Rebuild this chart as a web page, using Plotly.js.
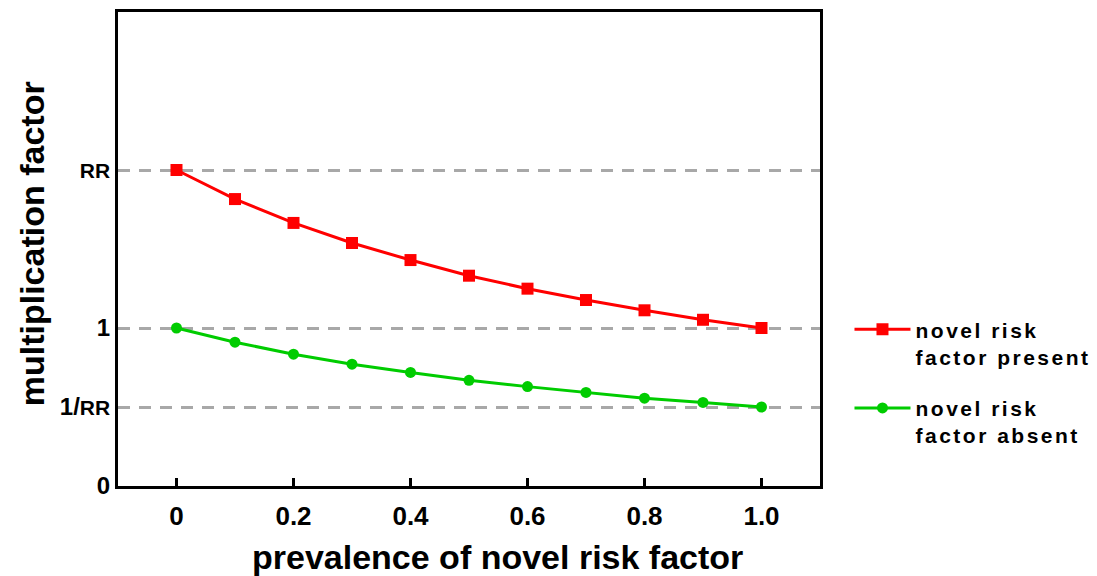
<!DOCTYPE html>
<html>
<head>
<meta charset="utf-8">
<script src="https://cdn.plot.ly/plotly-3.0.1.min.js"></script>
<style>
html,body{margin:0;padding:0;background:#fff;}
#chart{width:1097px;height:576px;}
.legendtext{letter-spacing:2.5px;}
</style>
</head>
<body>
<div id="chart"></div>
<script>
// data
const prevalence = [0, 0.1, 0.2, 0.3, 0.4, 0.5, 0.6, 0.7, 0.8, 0.9, 1.0];
const presentValues = [2.0, 1.816, 1.665, 1.538, 1.430, 1.331, 1.249, 1.177, 1.112, 1.052, 1.0];
const absentValues = [1.0, 0.910, 0.834, 0.771, 0.719, 0.669, 0.629, 0.592, 0.556, 0.529, 0.5];
const yTickVals = [0, 0.5, 1, 2];
const yTickText = ['0', '1/<span style="font-size:21px">RR</span>', '1', '<span style="font-size:21px">RR</span>'];
const xTickVals = [0, 0.2, 0.4, 0.6, 0.8, 1.0];
const xTickText = ['0', '0.2', '0.4', '0.6', '0.8', '1.0'];

const FONT = 'Liberation Sans, Arial, Helvetica, sans-serif';

const traces = [
  {
    x: prevalence, y: presentValues, type: 'scatter', mode: 'lines+markers',
    name: 'novel risk<br>factor present', legendgroup: 'a',
    line: {color: '#ff0000', width: 3},
    marker: {symbol: 'square', size: 12, color: '#ff0000'}
  },
  {
    x: prevalence, y: absentValues, type: 'scatter', mode: 'lines+markers',
    name: 'novel risk<br>factor absent', legendgroup: 'b',
    line: {color: '#00cc00', width: 3},
    marker: {symbol: 'circle', size: 11, color: '#00cc00'}
  }
];

const layout = {
  width: 1097, height: 576,
  margin: {l: 118, r: 277, t: 12, b: 90, autoexpand: false},
  paper_bgcolor: '#fff', plot_bgcolor: '#fff',
  font: {family: FONT, color: '#000'},
  showlegend: true,
  legend: {
    x: 1.042, xanchor: 'left', y: 0.373, yanchor: 'top',
    valign: 'top', tracegroupgap: 21, itemwidth: 56,
    font: {family: FONT, size: 21, weight: 'bold', color: '#000'},
    bgcolor: 'rgba(0,0,0,0)'
  },
  xaxis: {
    range: [-0.1, 1.1], tickvals: xTickVals, ticktext: xTickText,
    ticks: 'inside', ticklen: 8, tickwidth: 2.5, tickcolor: '#000',
    showline: true, linewidth: 3, linecolor: '#000', mirror: true,
    showgrid: false, zeroline: false,
    tickfont: {family: FONT, size: 26, weight: 'bold', color: '#000'},
    ticklabelstandoff: 5
  },
  yaxis: {
    range: [0, 3], tickvals: yTickVals, ticktext: yTickText,
    ticks: '', showline: true, linewidth: 3, linecolor: '#000', mirror: true,
    showgrid: true, gridcolor: '#a8a8a8', gridwidth: 3, griddash: '12px,9px',
    zeroline: false,
    tickfont: {family: FONT, size: 24, weight: 'bold', color: '#000'}
  },
  annotations: [
    {text: 'prevalence of novel risk factor', xref: 'paper', yref: 'paper',
     x: 0.54, y: 0, yshift: -71, xanchor: 'center', yanchor: 'middle', showarrow: false,
     font: {family: FONT, size: 34, weight: 'bold', color: '#000'}},
    {text: 'multiplication factor', xref: 'paper', yref: 'paper',
     x: 0, xshift: -86, y: 0.51, xanchor: 'center', yanchor: 'middle', showarrow: false,
     textangle: -90,
     font: {family: FONT, size: 34, weight: 'bold', color: '#000'}}
  ]
};

Plotly.newPlot('chart', traces, layout, {displayModeBar: false, responsive: false});
</script>
</body>
</html>
